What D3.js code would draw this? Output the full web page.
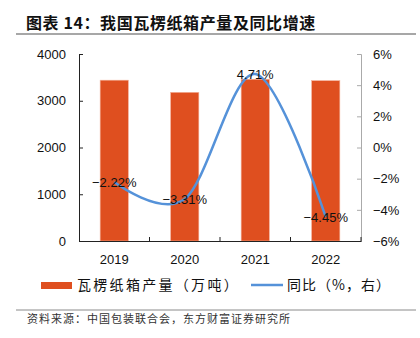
<!DOCTYPE html>
<html lang="zh">
<head>
<meta charset="UTF-8" />
<title>瓦楞纸箱产量及同比增速</title>
<script src="https://d3js.org/d3.v7.js"></script>
<style>
    body { margin: 0; background: #fff; }
    svg { display: block; }
    .num { font-family: "Liberation Sans", Arial, sans-serif; }
    .cjk { font-family: "Noto Sans CJK SC", sans-serif; }
</style>
</head>
<body>
<script>
    var w = 420;
    var h = 338;

    // 年份、产量（万吨）、同比（%）
    var years = ["2019", "2020", "2021", "2022"];
    var output = [3440, 3180, 3460, 3430];
    var yoy = [-2.22, -3.31, 4.71, -4.45];
    var leftTicks = [0, 1000, 2000, 3000, 4000];
    var rightTicks = [-6, -4, -2, 0, 2, 4, 6];

    var barColor = "#DF4F1F";
    var lineColor = "#5592D9";

    // 绘图区边界
    var plotL = 79, plotR = 361, plotT = 54, plotB = 241;

    var svg = d3.select("body")
                .append("svg")
                .attr("width", w)
                .attr("height", h);

    // 标题
    svg.append("text")
        .attr("class", "cjk")
        .attr("x", 26)
        .attr("y", 29)
        .attr("font-size", 16)
        .attr("font-weight", "bold")
        .attr("letter-spacing", 0.6)
        .attr("fill", "#111")
        .text("图表 14：我国瓦楞纸箱产量及同比增速");

    svg.append("line")
        .attr("x1", 16).attr("x2", 416)
        .attr("y1", 34).attr("y2", 34)
        .attr("stroke", "#8a8a8a")
        .attr("stroke-width", 1.5);

    var xScale = d3.scaleBand()
        .domain(years)
        .range([plotL, plotR])
        .paddingInner(0.6)
        .paddingOuter(0.3);

    var yScale = d3.scaleLinear()
        .domain([0, 4000])
        .range([plotB, plotT]);

    var y2Scale = d3.scaleLinear()
        .domain([-6, 6])
        .range([plotB, plotT]);

    // 柱子
    svg.selectAll(".bar")
        .data(output)
        .enter()
        .append("rect")
        .attr("class", "bar")
        .attr("x", function(d, i){ return xScale(years[i]); })
        .attr("y", function(d){ return yScale(d); })
        .attr("width", xScale.bandwidth())
        .attr("height", function(d){ return plotB - yScale(d); })
        .attr("fill", barColor)
        .attr("stroke", "#f3b29a")
        .attr("stroke-width", 0.6);

    // 左轴
    var leftAxis = svg.append("g")
        .attr("transform", "translate(" + plotL + ",0)")
        .call(d3.axisLeft(yScale).tickValues(leftTicks).tickFormat(d3.format("d"))
            .tickSizeInner(-4).tickSizeOuter(-4).tickPadding(13));
    leftAxis.selectAll("text").attr("font-size", 13).attr("fill", "#111").style("font-family", "Liberation Sans, Arial, sans-serif");
    leftAxis.selectAll("path, line").attr("stroke", "#222");

    // 右轴
    var rightAxis = svg.append("g")
        .attr("transform", "translate(" + plotR + ",0)")
        .call(d3.axisRight(y2Scale).tickValues(rightTicks).tickSizeInner(-4).tickSizeOuter(-4).tickPadding(12)
            .tickFormat(function(d){ return d3.format("d")(d) + "%"; }));
    rightAxis.selectAll("text").attr("font-size", 13).attr("fill", "#111").style("font-family", "Liberation Sans, Arial, sans-serif");
    rightAxis.selectAll("path, line").attr("stroke", "#aaa");

    // 横轴
    var xAxis = svg.append("g")
        .attr("transform", "translate(0," + plotB + ")")
        .call(d3.axisBottom(xScale).tickSize(0).tickPadding(14));
    xAxis.select("path").attr("stroke", "#222");
    xAxis.selectAll("text").attr("font-size", 13).attr("fill", "#111").style("font-family", "Liberation Sans, Arial, sans-serif");

    // 类别分隔刻度
    var step = xScale.step();
    svg.selectAll(".sep")
        .data(d3.range(1, years.length + 1))
        .enter()
        .append("line")
        .attr("x1", function(d){ return plotL + step * d; })
        .attr("x2", function(d){ return plotL + step * d; })
        .attr("y1", plotB - 4)
        .attr("y2", plotB)
        .attr("stroke", "#222");

    // 同比折线（平滑）
    var line = d3.line()
        .x(function(d, i){ return xScale(years[i]) + xScale.bandwidth() / 2; })
        .y(function(d){ return y2Scale(d); })
        .curve(d3.curveCardinal.tension(0));

    svg.append("path")
        .datum(yoy)
        .attr("d", line)
        .attr("fill", "none")
        .attr("stroke", lineColor)
        .attr("stroke-width", 2.5);

    // 数据标签
    svg.selectAll(".lbl")
        .data(yoy)
        .enter()
        .append("text")
        .attr("class", "num")
        .attr("x", function(d, i){ return xScale(years[i]) + xScale.bandwidth() / 2; })
        .attr("y", function(d){ return y2Scale(d); })
        .attr("dy", "0.36em")
        .attr("text-anchor", "middle")
        .attr("font-size", 13)
        .attr("fill", "#111")
        .text(function(d){ return d3.format(".2f")(d) + "%"; });

    // 图例
    svg.append("rect")
        .attr("x", 41).attr("y", 282)
        .attr("width", 31).attr("height", 7)
        .attr("fill", barColor);
    svg.append("text")
        .attr("class", "cjk")
        .attr("x", 77).attr("y", 290)
        .attr("font-size", 14)
        .attr("letter-spacing", 2.3)
        .attr("fill", "#111")
        .text("瓦楞纸箱产量（万吨）");

    svg.append("line")
        .attr("x1", 251).attr("x2", 283)
        .attr("y1", 285).attr("y2", 285)
        .attr("stroke", lineColor)
        .attr("stroke-width", 2.5);
    svg.append("text")
        .attr("class", "cjk")
        .attr("x", 287).attr("y", 290)
        .attr("font-size", 14)
        .attr("letter-spacing", 1)
        .attr("fill", "#111")
        .text("同比（%，右）");

    // 资料来源
    svg.append("line")
        .attr("x1", 16).attr("x2", 416)
        .attr("y1", 310).attr("y2", 310)
        .attr("stroke", "#8a8a8a")
        .attr("stroke-width", 1);
    svg.append("text")
        .attr("class", "cjk")
        .attr("x", 27).attr("y", 323)
        .attr("font-size", 11)
        .attr("letter-spacing", 1)
        .attr("fill", "#333")
        .text("资料来源：中国包装联合会，东方财富证券研究所");
</script>
</body>
</html>
